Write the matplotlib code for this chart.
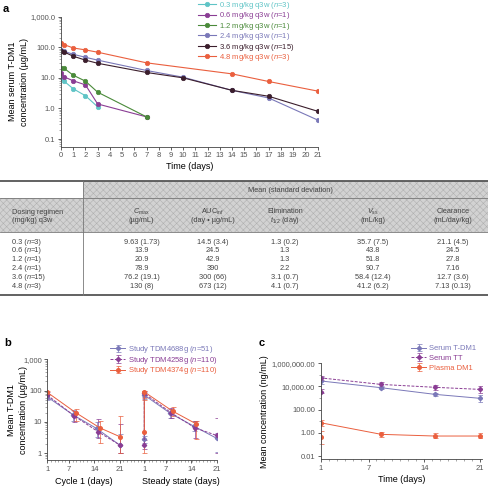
import numpy as np
import matplotlib
matplotlib.use("Agg")
import matplotlib.pyplot as plt
from matplotlib.patches import Rectangle
from matplotlib.offsetbox import TextArea, HPacker, AnnotationBbox
from matplotlib.ticker import LogLocator, NullFormatter, FixedLocator

plt.rcParams['font.family'] = ['Liberation Sans', 'DejaVu Sans']
plt.rcParams['mathtext.fontset'] = 'custom'
plt.rcParams['mathtext.rm'] = 'Liberation Sans'
plt.rcParams['mathtext.it'] = 'Liberation Sans:italic'
plt.rcParams['hatch.linewidth'] = 0.4

# colours
CYAN = '#5fc4c6'
PURPLE = '#8a3d94'
GREEN = '#4a8a3a'
LAVENDER = '#7a78b8'
MAROON = '#3b1e2c'
ORANGE = '#ea5f3e'

# ---- panel a: serum T-DM1 by dose level ----
dose_labels = ['0.3 mg/kg q3w ($\\it{n}$=3)', '0.6 mg/kg q3w ($\\it{n}$=1)',
               '1.2 mg/kg q3w ($\\it{n}$=1)', '2.4 mg/kg q3w ($\\it{n}$=1)',
               '3.6 mg/kg q3w ($\\it{n}$=15)', '4.8 mg/kg q3w ($\\it{n}$=3)']
dose_colors = [CYAN, PURPLE, GREEN, LAVENDER, MAROON, ORANGE]
days_03 = [0, 0.25, 1, 2, 3]
conc_03 = [9.6, 7.8, 4.4, 2.6, 1.13]
days_06 = [0, 0.25, 1, 2, 3, 7]
conc_06 = [14.5, 10.8, 8.0, 5.9, 1.4, 0.53]
days_12 = [0, 0.25, 1, 2, 3, 7]
conc_12 = [21, 20.5, 12.2, 7.8, 3.4, 0.53]
days_24 = [0, 0.25, 1, 2, 3, 7, 10, 14, 17, 21]
conc_24 = [80, 74, 59, 47, 38, 17.4, 10.5, 3.9, 2.2, 0.42]
days_36 = [0, 0.25, 1, 2, 3, 7, 10, 14, 17, 21]
conc_36 = [78, 70, 51, 38, 30, 15, 10, 3.9, 2.5, 0.81]
days_48 = [0, 0.25, 1, 2, 3, 7, 14, 17, 21]
conc_48 = [139, 122, 95, 82, 69, 31, 13.5, 7.6, 3.7]

# ---- table ----
col_heads_1 = ['$C_{\\rm max}$', 'AUC$_{\\rm inf}$', 'Elimination', '$V_{\\rm ss}$', 'Clearance']
col_heads_2 = ['(\u00b5g/mL)', '(day \u2022 \u00b5g/mL)', '$t_{1/2}$ (day)', '(mL/kg)', '(mL/day/kg)']
regimen_dose = ['0.3', '0.6', '1.2', '2.4', '3.6', '4.8']
regimen_n = ['3', '1', '1', '1', '15', '3']
cmax = ['9.63 (1.73)', '13.9', '20.9', '78.9', '76.2 (19.1)', '130 (8)']
auc = ['14.5 (3.4)', '24.5', '42.9', '390', '300 (66)', '673 (12)']
t_half = ['1.3 (0.2)', '1.3', '1.3', '2.2', '3.1 (0.7)', '4.1 (0.7)']
vss = ['35.7 (7.5)', '43.8', '51.8', '90.7', '58.4 (12.4)', '41.2 (6.2)']
clearance = ['21.1 (4.5)', '24.5', '27.8', '7.16', '12.7 (3.6)', '7.13 (0.13)']

# ---- panel b: three studies, cycle 1 and steady state ----
study_labels = ['Study TDM4688g ($\\it{n}$=51)', 'Study TDM4258g ($\\it{n}$=110)',
                'Study TDM4374g ($\\it{n}$=110)']
STEADY_SHIFT = 26.8   # steady-state days are drawn after cycle 1 on the same axis
c1_days_4688 = [1, 8.2, 14.6, 21]
c1_mean_4688 = [63, 16.6, 6.2, 1.84]
c1_lo_4688 = [50, 11, 3.2, 1.0]
c1_hi_4688 = [80, 24, 10, 4.0]
c1_days_4258 = [1, 8.4, 15.0, 21]
c1_mean_4258 = [72, 15.7, 4.9, 1.84]
c1_lo_4258 = [55, 10, 3.0, 1.0]
c1_hi_4258 = [90, 22, 12, 8.5]
c1_days_4374 = [1, 8.8, 15.5, 21]
c1_mean_4374 = [88, 20, 6.5, 3.4]
c1_lo_4374 = [70, 11, 2.1, 1.0]
c1_hi_4374 = [100, 25, 10.5, 16]
ss_days_4688 = [1, 1, 8.2, 14.6, 21]
ss_mean_4688 = [2.8, 72, 18.8, 7.4, 3.0]
ss_lo_4688 = [2.2, 55, 13, 5, 1.1]
ss_hi_4688 = [3.5, 88, 26, 11, 4.5]
ss_days_4258 = [1, 1, 8.4, 15.0, 21]
ss_mean_4258 = [1.9, 81, 19.6, 6.5, 3.7]
ss_lo_4258 = [1.4, 62, 13, 3.0, 1.05]
ss_hi_4258 = [2.6, 95, 28, 11, 13]
ss_days_4374 = [1, 1, 8.8, 15.4]
ss_mean_4374 = [4.7, 91, 22.2, 8.6]
ss_lo_4374 = [1.0, 50, 16, 2.8]
ss_hi_4374 = [60, 100, 30, 10.7]

# ---- panel c: analytes ----
analyte_labels = ['Serum T-DM1', 'Serum TT', 'Plasma DM1']
tdm1_days = [1, 8.6, 15.3, 21]
tdm1_mean = [30000, 7800, 2100, 950]
tdm1_lo = [15000, 6000, 1500, 500]
tdm1_hi = [60000, 10000, 2800, 1800]
tt_days = [1, 1, 8.6, 15.3, 21]
tt_mean = [3500, 55000, 15000, 8500, 5600]
tt_lo = [2500, 40000, 9000, 4500, 2500]
tt_hi = [6000, 80000, 25000, 14000, 11000]
dm1_days = [1, 1, 8.6, 15.3, 21]
dm1_mean = [0.46, 7.4, 0.74, 0.53, 0.53]
dm1_lo = [0.12, 4, 0.4, 0.35, 0.35]
dm1_hi = [1.5, 12, 1.3, 0.9, 0.9]

W, H = 488, 487
fig = plt.figure(figsize=(W / 100, H / 100), dpi=100)


def px_axes(left, top, right, bottom):
    return fig.add_axes([left / W, 1 - bottom / H, (right - left) / W, (bottom - top) / H])


def style(ax):
    for s in ['top', 'right']:
        ax.spines[s].set_visible(False)
    for s in ['left', 'bottom']:
        ax.spines[s].set_linewidth(0.6)
        ax.spines[s].set_color('#444444')
    ax.tick_params(which='major', length=2.5, width=0.6, color='#444444',
                   labelsize=5.5, labelcolor='#555555', pad=1.5)
    ax.tick_params(which='minor', length=1.2, width=0.4, color='#666666')
    ax.patch.set_alpha(0)


def err(ax, x, m, lo, hi, color, ls, marker, ms, label, shift=0):
    x = np.array(x) + shift
    m = np.array(m)
    ax.errorbar(x, m, yerr=[m - np.array(lo), np.array(hi) - m], color=color, ls=ls,
                lw=0.7, marker=marker, ms=ms, elinewidth=0.5, capsize=1.8, capthick=0.5,
                label=label)


def ylabel_at(ax, text, right_px, left_px, width_px, **kw):
    ax.set_ylabel(text, fontsize=6.5, linespacing=1.4, **kw)
    ax.yaxis.set_label_coords((right_px - left_px) / width_px, 0.5)


# panel a
ax_a = px_axes(61, 16.7, 317.5, 146.7)
style(ax_a)
series_a = [(days_03, conc_03), (days_06, conc_06), (days_12, conc_12),
            (days_24, conc_24), (days_36, conc_36), (days_48, conc_48)]
for (d, c), col, lab in zip(series_a, dose_colors, dose_labels):
    ax_a.plot(d, c, color=col, lw=0.8, marker='o', ms=3.2, mec=col, mew=0.5, label=lab)
ax_a.set_yscale('log')
ax_a.set_ylim(0.056, 1000)
ax_a.set_xlim(0, 21)
ax_a.set_yticks([0.1, 1, 10, 100, 1000], ['0.1', '1.0', '10.0', '100.0', '1,000.0'])
ax_a.yaxis.set_minor_locator(LogLocator(subs=np.arange(2, 10)))
ax_a.yaxis.set_minor_formatter(NullFormatter())
ax_a.set_xticks(range(22))
ax_a.set_xlabel('Time (days)', fontsize=6.5, labelpad=2)
ylabel_at(ax_a, 'Mean serum T-DM1\nconcentration (\u00b5g/mL)', 29, 61, 256.5)
ax_a.legend(loc='upper left', bbox_to_anchor=(198 / W, 1.0), bbox_transform=fig.transFigure,
            frameon=False, fontsize=5.5, handlelength=2.3, handletextpad=0.4,
            labelspacing=-0.08, borderpad=0, borderaxespad=0, labelcolor='linecolor')
fig.text(3 / W, 1 - 9 / H, 'a', fontsize=8, fontweight='bold', va='center')

# table drawn in pixel coordinates
ax_t = fig.add_axes([0, 0, 1, 1])
ax_t.set_xlim(0, W)
ax_t.set_ylim(H, 0)
ax_t.axis('off')
ax_t.patch.set_alpha(0)
ax_t.add_patch(Rectangle((83.3, 181), W - 83.3, 17, facecolor='#d2d2d2', hatch='xxxxx',
                         edgecolor='#b0b0b0', lw=0))
ax_t.add_patch(Rectangle((0, 198), W, 34, facecolor='#d2d2d2', hatch='xxxxx',
                         edgecolor='#b0b0b0', lw=0))
ax_t.plot([0, W], [181, 181], color='#555555', lw=1.3)
ax_t.plot([0, W], [198, 198], color='#777777', lw=0.6)
ax_t.plot([0, W], [232, 232], color='#777777', lw=0.6)
ax_t.plot([0, W], [294.5, 294.5], color='#555555', lw=1.3)
ax_t.plot([83.3, 83.3], [181, 294.5], color='#777777', lw=0.6)
tcol = '#444444'
tfs = 5.3
ax_t.text(290, 190, 'Mean (standard deviation)', fontsize=tfs, color=tcol, ha='center', va='center')
ax_t.text(12, 212, 'Dosing regimen', fontsize=tfs, color=tcol, va='center')
ax_t.text(12, 221, '(mg/kg) q3w', fontsize=tfs, color=tcol, va='center')
col_x = [141.7, 213, 285, 373, 453]
for x, h1, h2 in zip(col_x, col_heads_1, col_heads_2):
    ax_t.text(x, 211.5, h1, fontsize=tfs, color=tcol, ha='center', va='center')
    ax_t.text(x, 221, h2, fontsize=tfs, color=tcol, ha='center', va='center')


def regimen_cell(x, y, dose, n):
    # "0.3 (n=3)" with an italic n, built from three text runs
    runs = [(dose + ' (', 'normal'), ('n', 'italic'), ('=' + n + ')', 'normal')]
    boxes = [TextArea(t, textprops=dict(fontsize=tfs, color=tcol, fontstyle=st)) for t, st in runs]
    pack = HPacker(children=boxes, align='baseline', pad=0, sep=0)
    ax_t.add_artist(AnnotationBbox(pack, (x, y), xycoords='data', box_alignment=(0, 0.5),
                                   frameon=False, pad=0))


row_y = [242, 251, 259.7, 268.3, 277.3, 286.5]
for i, y in enumerate(row_y):
    regimen_cell(12, y, regimen_dose[i], regimen_n[i])
    for x, col in zip(col_x, [cmax, auc, t_half, vss, clearance]):
        ax_t.text(x, y, col[i], fontsize=tfs, color=tcol, ha='center', va='center')

# panel b
ax_b = px_axes(47.3, 359.3, 216.7, 460)
style(ax_b)
err(ax_b, c1_days_4688, c1_mean_4688, c1_lo_4688, c1_hi_4688, LAVENDER, '-', 'D', 2.2, study_labels[0])
err(ax_b, c1_days_4258, c1_mean_4258, c1_lo_4258, c1_hi_4258, PURPLE, (0, (3, 1.5)), 'D', 2.2, study_labels[1])
err(ax_b, c1_days_4374, c1_mean_4374, c1_lo_4374, c1_hi_4374, ORANGE, '-', 'o', 2.6, study_labels[2])
err(ax_b, ss_days_4688, ss_mean_4688, ss_lo_4688, ss_hi_4688, LAVENDER, '-', 'D', 2.2, None, STEADY_SHIFT)
err(ax_b, ss_days_4258, ss_mean_4258, ss_lo_4258, ss_hi_4258, PURPLE, (0, (3, 1.5)), 'D', 2.2, None, STEADY_SHIFT)
err(ax_b, ss_days_4374, ss_mean_4374, ss_lo_4374, ss_hi_4374, ORANGE, '-', 'o', 2.6, None, STEADY_SHIFT)
ax_b.set_yscale('log')
ax_b.set_ylim(0.61, 1000)
ax_b.set_xlim(1, 21 + STEADY_SHIFT)
ax_b.set_yticks([1, 10, 100, 1000], ['1', '10', '100', '1,000'])
ax_b.yaxis.set_minor_locator(LogLocator(subs=np.arange(2, 10)))
ax_b.yaxis.set_minor_formatter(NullFormatter())
b_ticks = [1, 7, 14, 21]
ax_b.set_xticks(b_ticks + [d + STEADY_SHIFT for d in b_ticks], [str(d) for d in b_ticks] * 2)
ax_b.xaxis.set_minor_locator(FixedLocator(np.arange(1, 22 + STEADY_SHIFT)))
ylabel_at(ax_b, 'Mean T-DM1\nconcentration (\u00b5g/mL)', 28, 47.3, 169.4)
ax_b.text(11, -0.215, 'Cycle 1 (days)', transform=ax_b.get_xaxis_transform(),
          fontsize=6.5, ha='center', va='center')
ax_b.text(11 + STEADY_SHIFT, -0.215, 'Steady state (days)', transform=ax_b.get_xaxis_transform(),
          fontsize=6.5, ha='center', va='center')
ax_b.legend(loc='upper left', bbox_to_anchor=(110 / W, 1 - 344 / H), bbox_transform=fig.transFigure,
            frameon=False, fontsize=5.5, handlelength=2.0, handletextpad=0.4,
            labelspacing=-0.05, borderpad=0, borderaxespad=0, labelcolor='linecolor')
fig.text(4 / W, 1 - 343 / H, 'b', fontsize=8, fontweight='bold', va='center')

# panel c
ax_c = px_axes(320.7, 363.3, 481.7, 459.3)
style(ax_c)
err(ax_c, tdm1_days, tdm1_mean, tdm1_lo, tdm1_hi, LAVENDER, '-', 'D', 2.2, analyte_labels[0])
err(ax_c, tt_days, tt_mean, tt_lo, tt_hi, PURPLE, (0, (3, 1.5)), 'D', 2.2, analyte_labels[1])
err(ax_c, dm1_days, dm1_mean, dm1_lo, dm1_hi, ORANGE, '-', 'o', 2.6, analyte_labels[2])
ax_c.set_yscale('log')
ax_c.set_ylim(0.0052, 1e6)
ax_c.set_xlim(1, 21.2)
ax_c.set_yticks([0.01, 1, 100, 1e4, 1e6], ['0.01', '1.00', '100.00', '10,000.00', '1,000,000.00'])
ax_c.yaxis.set_minor_locator(LogLocator(numticks=20))
ax_c.yaxis.set_minor_formatter(NullFormatter())
ax_c.set_xticks([1, 7, 14, 21])
ax_c.xaxis.set_minor_locator(FixedLocator(np.arange(1, 22)))
ax_c.set_xlabel('Time (days)', fontsize=6.5, labelpad=2)
ylabel_at(ax_c, 'Mean concentration (ng/mL)', 269, 320.7, 161)
ax_c.legend(loc='upper left', bbox_to_anchor=(411 / W, 1 - 345 / H), bbox_transform=fig.transFigure,
            frameon=False, fontsize=5.5, handlelength=2.0, handletextpad=0.4,
            labelspacing=0.3, borderpad=0, borderaxespad=0, labelcolor='linecolor')
fig.text(259 / W, 1 - 343 / H, 'c', fontsize=8, fontweight='bold', va='center')

fig.savefig('out.png', dpi=100)
